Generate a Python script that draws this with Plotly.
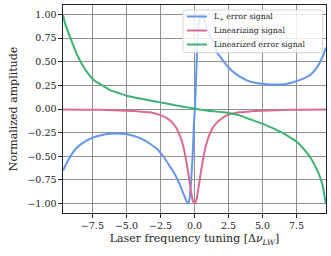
import plotly.graph_objects as go

# L+ error signal
blue_x = [-9.66, -9.2, -8.65, -8.0, -7.43, -6.8, -6.2, -5.7, -5.2, -4.7, -4.24, -3.7, -3.25, -2.77,
          -2.3, -1.79, -1.4, -1.05, -0.8, -0.6, -0.49, -0.4, -0.3, -0.2, -0.12, -0.04, 0.03, 0.1,
          0.22, 0.32, 0.5, 0.7, 1.05, 1.4, 1.65, 2.0, 2.38, 2.62, 3.36, 4.1, 4.8, 5.5, 6.1, 6.6,
          7.2, 7.8, 8.5, 9.0, 9.37, 9.66]
blue_y = [-0.65, -0.52, -0.41, -0.34, -0.30, -0.275, -0.262, -0.258, -0.262, -0.275, -0.295, -0.33,
          -0.37, -0.42, -0.50, -0.61, -0.70, -0.81, -0.90, -0.97, -1.0, -0.98, -0.86, -0.65, -0.44,
          -0.15, 0.0, 0.25, 0.73, 0.92, 1.0, 0.95, 0.81, 0.70, 0.60, 0.53, 0.46, 0.42, 0.34, 0.29,
          0.27, 0.26, 0.258, 0.262, 0.28, 0.31, 0.36, 0.44, 0.54, 0.65]

# Linearizing signal
pink_x = [-9.66, -8.0, -6.0, -5.0, -4.0, -3.26, -2.5, -2.0, -1.6, -1.3, -1.05, -0.85, -0.67, -0.5,
          -0.35, -0.2, -0.1, 0.0, 0.1, 0.2, 0.35, 0.5, 0.67, 0.85, 1.05, 1.3, 1.6, 2.0, 2.5, 3.26,
          4.0, 5.0, 6.0, 8.0, 9.66]
pink_y = [-0.005, -0.007, -0.012, -0.018, -0.027, -0.035, -0.065, -0.10, -0.15, -0.21, -0.29, -0.38,
          -0.50, -0.64, -0.78, -0.92, -0.98, -1.0, -0.98, -0.92, -0.78, -0.64, -0.50, -0.38, -0.29,
          -0.21, -0.15, -0.10, -0.06, -0.035, -0.027, -0.018, -0.012, -0.007, -0.005]

# Linearized error signal
green_x = [-9.66, -9.5, -9.14, -8.65, -8.04, -7.43, -6.9, -6.2, -5.5, -4.97, -4.0, -3.26, -2.52,
           -1.79, -1.05, 0.0, 1.0, 2.13, 2.62, 3.36, 4.1, 5.07, 5.7, 6.3, 6.9, 7.53, 8.0, 8.5, 8.85,
           9.12, 9.4, 9.61, 9.66]
green_y = [1.0, 0.9, 0.76, 0.58, 0.42, 0.31, 0.26, 0.20, 0.165, 0.14, 0.11, 0.09, 0.07, 0.05, 0.03,
           0.005, -0.018, -0.035, -0.046, -0.07, -0.11, -0.16, -0.20, -0.24, -0.29, -0.35, -0.42,
           -0.51, -0.60, -0.68, -0.80, -0.97, -1.0]

names = ["L<sub>+</sub> error signal", "Linearizing signal", "Linearized error signal"]
colors = ["#6495ED", "#DB6A8F", "#3CB371"]

x_ticks = [-7.5, -5.0, -2.5, 0.0, 2.5, 5.0, 7.5]
y_ticks = [-1.0, -0.75, -0.5, -0.25, 0.0, 0.25, 0.5, 0.75, 1.0]

def lab(v, fmt):
    return (fmt % v).replace("-", "\u2212")

FONT = "DejaVu Serif, Liberation Serif, serif"
fig = go.Figure()
for xs, ys, nm, c in [(blue_x, blue_y, names[0], colors[0]),
                      (pink_x, pink_y, names[1], colors[1]),
                      (green_x, green_y, names[2], colors[2])]:
    fig.add_trace(go.Scatter(x=xs, y=ys, mode="lines", name=nm, showlegend=False,
                             line=dict(color=c, width=2, shape="spline", smoothing=0.5)))

axis_common = dict(showline=True, linecolor="#222", linewidth=1.2, mirror=True,
                   showgrid=True, gridcolor="#8f8f8f", gridwidth=1, zeroline=False,
                   ticks="outside", ticklen=3.5, tickwidth=0.8, tickcolor="#222",
                   automargin=False,
                   tickfont=dict(family=FONT, size=9.5, color="#222"))
fig.update_xaxes(range=[-9.66, 9.66], tickvals=x_ticks,
                 ticktext=[lab(v, "%.1f") for v in x_ticks],
                 title=dict(text="Laser frequency tuning [Δ<i>ν</i><sub><i>LW</i></sub>]",
                            font=dict(family=FONT, size=11, color="#222"), standoff=4),
                 **axis_common)
fig.update_yaxes(range=[-1.1, 1.1], tickvals=y_ticks,
                 ticktext=[lab(v, "%.2f") for v in y_ticks],
                 title=dict(text="Normalized amplitude",
                            font=dict(family=FONT, size=11, color="#222"), standoff=7),
                 **axis_common)

# Legend box (rounded) drawn in paper coordinates, matplotlib style
lx0, lx1, ly0, ly1 = 0.456, 0.9875, 0.7707, 0.976
rx, ry = 0.011, 0.014
path = (f"M {lx0+rx},{ly0} L {lx1-rx},{ly0} Q {lx1},{ly0} {lx1},{ly0+ry} "
        f"L {lx1},{ly1-ry} Q {lx1},{ly1} {lx1-rx},{ly1} L {lx0+rx},{ly1} "
        f"Q {lx0},{ly1} {lx0},{ly1-ry} L {lx0},{ly0+ry} Q {lx0},{ly0} {lx0+rx},{ly0} Z")
shapes = [dict(type="path", path=path, xref="paper", yref="paper", layer="above",
               fillcolor="rgba(255,255,255,0.82)", line=dict(color="#d0d0d0", width=0.9))]
annotations = []
row_y = [0.9447, 0.8774, 0.8101]
for nm, c, yy in zip(names, colors, row_y):
    shapes.append(dict(type="line", xref="paper", yref="paper", layer="above",
                       x0=0.4715, x1=0.5475, y0=yy, y1=yy, line=dict(color=c, width=2)))
    annotations.append(dict(text=nm, xref="paper", yref="paper", x=0.567, y=yy,
                            xanchor="left", yanchor="middle", showarrow=False,
                            font=dict(family=FONT, size=7.8, color="#222")))

fig.update_layout(
    width=331, height=256, autosize=False,
    margin=dict(l=63, r=5, t=5, b=43),
    plot_bgcolor="white", paper_bgcolor="white",
    font=dict(family=FONT, color="#222"),
    showlegend=False,
    shapes=shapes, annotations=annotations,
)
fig.write_html("out.html", config={"displayModeBar": False},
               post_script="document.body.style.margin='0';document.body.style.overflow='hidden';")
